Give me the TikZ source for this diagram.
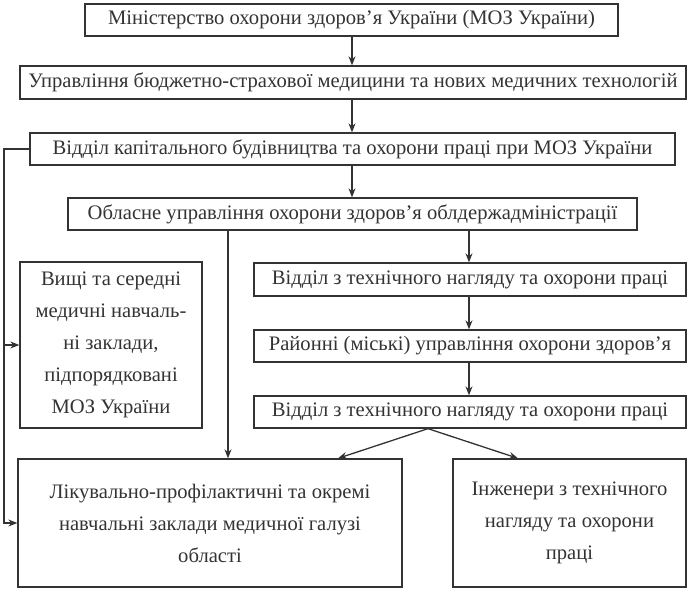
\documentclass[tikz,border=0pt]{standalone}
\usepackage{fontspec}
\setmainfont{Liberation Serif}
\usetikzlibrary{arrows.meta}
\definecolor{ink}{HTML}{333333}
\tikzset{
  box/.style={draw=ink, line width=1.3pt, text=ink, inner sep=0pt, align=center,
    font={\fontsize{20.6}{32}\selectfont}},
  arr/.style={draw=ink, line width=1.3pt, -{Stealth[length=9pt,width=7pt]}},
  ln/.style={draw=ink, line width=1.3pt}
}
\begin{document}
\begin{tikzpicture}[x=1pt,y=-1pt]
\useasboundingbox (0,0) rectangle (689,594);
\node[box, minimum width=533pt, minimum height=32pt] (b1) at (351.5,20) {Міністерство охорони здоров’я України (МОЗ України)};
\node[box, minimum width=666pt, minimum height=33pt] (b2) at (353,82.5) {Управління бюджетно-страхової медицини та нових медичних технологій};
\node[box, minimum width=645pt, minimum height=32pt] (b3) at (352.5,149) {Відділ капітального будівництва та охорони праці при МОЗ України};
\node[box, minimum width=569pt, minimum height=32pt] (b4) at (352.5,214) {Обласне управління охорони здоров’я облдержадміністрації};
\node[box, minimum width=182pt, minimum height=166pt] (b5) at (111,345) {Вищі та середні\\медичні навчаль-\\ні заклади,\\підпорядковані\\МОЗ України};
\node[box, minimum width=432pt, minimum height=33pt] (b6) at (470,279.5) {Відділ з технічного нагляду та охорони праці};
\node[box, minimum width=432pt, minimum height=32pt] (b7) at (470,346) {Районні (міські) управління охорони здоров’я};
\node[box, minimum width=432pt, minimum height=32pt] (b8) at (470,412) {Відділ з технічного нагляду та охорони праці};
\node[box, minimum width=384pt, minimum height=128pt] (b9) at (210,523) {Лікувально-профілактичні та окремі\\навчальні заклади медичної галузі\\області};
\node[box, minimum width=233pt, minimum height=128pt] (b10) at (569.5,523) {Інженери з технічного\\нагляду та охорони\\праці};
\coordinate (xa) at (352,0);
\coordinate (xb) at (228,0);
\coordinate (xc) at (469,0);
\coordinate (xs) at (428,0);
\coordinate (x9) at (338,0);
\coordinate (x10) at (518,0);
\coordinate (xl) at (4,0);
\draw[arr] (b1.south -| xa) -- (b2.north -| xa);
\draw[arr] (b2.south -| xa) -- (b3.north -| xa);
\draw[arr] (b3.south -| xa) -- (b4.north -| xa);
\draw[arr] (b4.south -| xb) -- (b9.north -| xb);
\draw[arr] (b4.south -| xc) -- (b6.north -| xc);
\draw[arr] (b6.south -| xc) -- (b7.north -| xc);
\draw[arr] (b7.south -| xc) -- (b8.north -| xc);
\draw[arr] (b8.south -| xs) -- (b9.north -| x9);
\draw[arr] (b8.south -| xs) -- (b10.north -| x10);
\draw[arr] (b3.west) -- (b3.west -| xl) -- (b9.west -| xl) -- (b9.west);
\draw[arr] (b5.west -| xl) -- (b5.west);
\end{tikzpicture}
\end{document}
